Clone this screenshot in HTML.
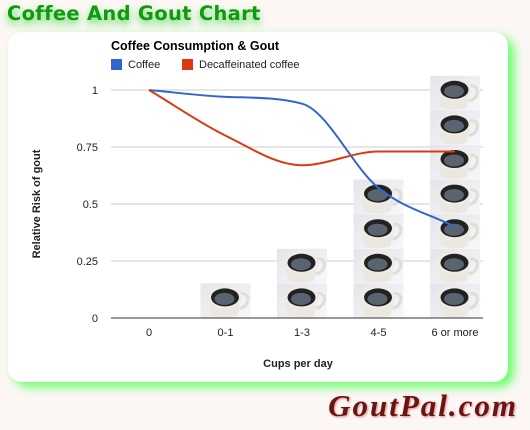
<!DOCTYPE html>
<html><head><meta charset="utf-8">
<style>
html,body{margin:0;padding:0;}
body{width:530px;height:430px;background:#fcf7f5;position:relative;overflow:hidden;font-family:"Liberation Sans",Arial,sans-serif;}
#title{position:absolute;left:7px;top:2px;font-size:19.5px;font-weight:bold;color:#119911;text-shadow:0 4px 8px #55dd55;letter-spacing:0.3px;font-family:"DejaVu Sans","Liberation Sans",sans-serif;}
#card{position:absolute;left:8px;top:32px;width:500px;height:350px;background:#fff;border-radius:14px;box-shadow:6px 5px 10px #66ff66;}
#logo{position:absolute;right:12px;top:388px;font-family:"Liberation Serif",serif;font-style:italic;font-weight:bold;font-size:31px;color:#6a1515;text-shadow:1px 1px 2px #d88;letter-spacing:2px;}
svg{position:absolute;left:0;top:0;}
</style></head><body>
<div id="title">Coffee And Gout Chart</div>
<div id="card"></div>
<div id="logo">GoutPal.com</div>
<svg id="chart" width="530" height="430"></svg>
<script>
const categories=["0","0-1","1-3","4-5","6 or more"];
const cupCounts=[0,1,2,4,7];
const coffee=[1,0.97,0.94,0.57,0.40];
const decaf=[1,0.8,0.67,0.73,0.73];
const yTicks=[0,0.25,0.5,0.75,1];
const yTickLabels=["0","0.25","0.5","0.75","1"];

const NS="http://www.w3.org/2000/svg";
const svg=document.getElementById('chart');
const X0=111,X1=483,Y0=318,Y1=90;
const xs=i=>149+i*76.5;
const ys=v=>Y0-(v)*(Y0-Y1);
const CUP=34.6;
function mk(t,a,p){const e=document.createElementNS(NS,t);for(const k in a)e.setAttribute(k,a[k]);(p||svg).appendChild(e);return e;}

yTicks.forEach((v,i)=>{
 if(v>0){const g=mk('line',{x1:X0,x2:X1,y1:ys(v),y2:ys(v),stroke:'#cccccc','stroke-width':1});
 
 }
 const t=mk('text',{x:98,y:ys(v)+4,'text-anchor':'end','font-size':11,fill:'#222'});
 t.textContent=yTickLabels[i];
 
 
});

const defs=mk('defs',{});
const lg=mk('linearGradient',{id:'bg',x1:0,y1:0,x2:1,y2:1},defs);
mk('stop',{offset:0,'stop-color':'#e4e4ea'},lg);mk('stop',{offset:1,'stop-color':'#f8f8fa'},lg);

function cup(cx,top){
 const g=mk('g',{});
 const x=cx-25;
 mk('rect',{x:x,y:top,width:50,height:CUP,fill:'url(#bg)'},g);
 mk('path',{d:`M${x+40} ${top+10} q9 0 7 8 q-2 6 -8 7`,fill:'none',stroke:'#e0ddd6','stroke-width':3},g);
 mk('path',{d:`M${x+8} ${top+14} L${x+11} ${top+32} Q${x+24} ${top+36} ${x+37} ${top+32} L${x+41} ${top+14} Z`,fill:'#ebe8e2'},g);
 mk('ellipse',{cx:x+24.5,cy:top+14,rx:17,ry:11,fill:'#efece6'},g);
 mk('ellipse',{cx:x+24.5,cy:top+14,rx:14,ry:9,fill:'#222'},g);
 mk('ellipse',{cx:x+24,cy:top+15.5,rx:10,ry:6,fill:'#5a6470'},g);
 return g;
}
categories.forEach((c,i)=>{
 const bar=mk('g',{});
 
 
 for(let k=0;k<cupCounts[i];k++){bar.appendChild(cup(xs(i),Y0-(k+1)*CUP));}
 const t=mk('text',{x:xs(i),y:336,'text-anchor':'middle','font-size':11,fill:'#222'});
 t.textContent=c;
 
 
});
const ax=mk('line',{x1:X0,x2:X1,y1:Y0,y2:Y0,stroke:'#333','stroke-width':1});



function smooth(vals){
 const p=vals.map((v,i)=>[xs(i),ys(v)]);
 const n=p.length,d=[],m=[];
 for(let i=0;i<n-1;i++)d.push((p[i+1][1]-p[i][1])/(p[i+1][0]-p[i][0]));
 m[0]=d[0];m[n-1]=d[n-2];
 for(let i=1;i<n-1;i++){m[i]=(d[i-1]*d[i]<=0)?0:(d[i-1]+d[i])/2;}
 for(let i=0;i<n-1;i++){if(d[i]===0){m[i]=0;m[i+1]=0;continue;}
  const a=m[i]/d[i],b=m[i+1]/d[i],s=a*a+b*b;if(s>9){const t=3/Math.sqrt(s);m[i]=t*a*d[i];m[i+1]=t*b*d[i];}}
 let s=`M${p[0][0]} ${p[0][1]}`;
 for(let i=0;i<n-1;i++){const h=(p[i+1][0]-p[i][0])/3;
  s+=` C${p[i][0]+h} ${p[i][1]+m[i]*h} ${p[i+1][0]-h} ${p[i+1][1]-m[i+1]*h} ${p[i+1][0]} ${p[i+1][1]}`;}
 return s;
}
const l1=mk('path',{d:smooth(coffee),fill:'none',stroke:'#3366cc','stroke-width':2});


const l2=mk('path',{d:smooth(decaf),fill:'none',stroke:'#dc3912','stroke-width':2});



const ct=mk('text',{x:111,y:50,'font-size':12.5,'font-weight':'bold',fill:'#000'});ct.textContent='Coffee Consumption & Gout';

const lgA=mk('g',{});
mk('rect',{x:111,y:59,width:11,height:11,fill:'#3366cc'},lgA);
const la=mk('text',{x:128,y:68,'font-size':11,fill:'#222'},lgA);la.textContent='Coffee';
const lgB=mk('g',{});
mk('rect',{x:182,y:59,width:11,height:11,fill:'#dc3912'},lgB);
const lb=mk('text',{x:199,y:68,'font-size':11,fill:'#222'},lgB);lb.textContent='Decaffeinated coffee';
const yt=mk('text',{x:0,y:0,'font-size':11,'font-weight':'bold',fill:'#222','text-anchor':'middle',transform:'translate(40,204) rotate(-90)'});yt.textContent='Relative Risk of gout';

const xt=mk('text',{x:298,y:367,'font-size':11,'font-weight':'bold',fill:'#222','text-anchor':'middle'});xt.textContent='Cups per day';

</script>
</body></html>
